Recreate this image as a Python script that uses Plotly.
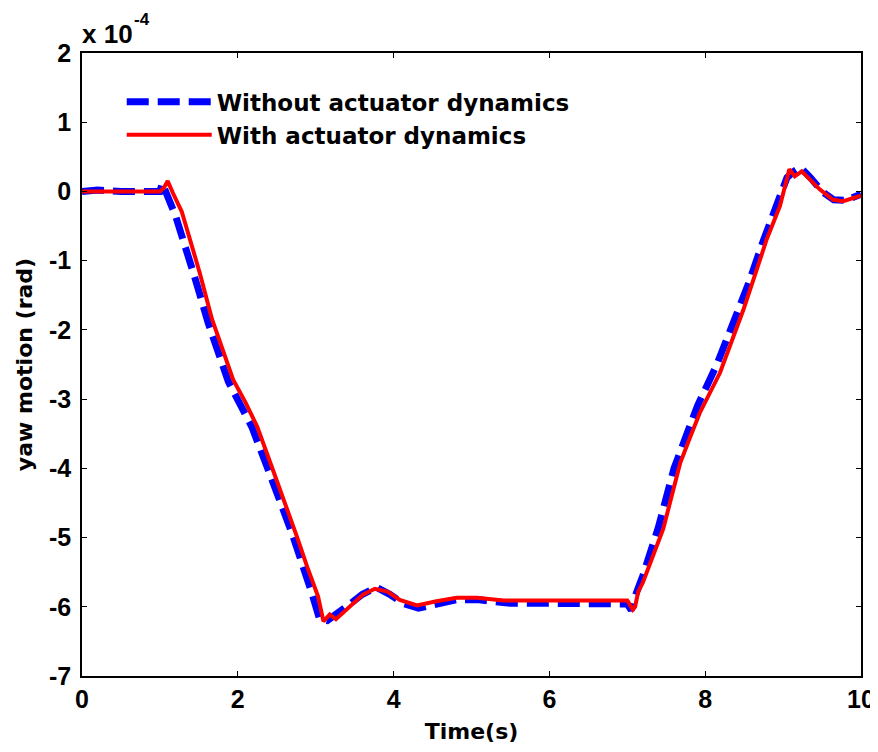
import plotly.graph_objects as go

# yaw motion in units of 1e-4 rad
t_without = [0.0, 0.2, 0.5, 1.0, 1.03, 1.10, 1.20, 1.45, 1.62, 1.88, 2.18, 2.40,
             2.70, 2.95, 3.05, 3.15, 3.28, 3.45, 3.60, 3.78, 3.95, 4.12, 4.32,
             4.55, 4.80, 5.10, 5.50, 6.00, 6.50, 7.00, 7.05, 7.10, 7.20, 7.40,
             7.60, 7.75, 7.90, 8.15, 8.35, 8.55, 8.75, 8.95, 9.05, 9.15, 9.22,
             9.35, 9.50, 9.65, 9.80, 10.0]
y_without = [0.0, 0.02, 0.0, 0.0, 0.12, -0.05, -0.35, -1.25, -1.90, -2.75, -3.40,
             -4.05, -4.95, -5.80, -6.18, -6.20, -6.10, -5.95, -5.82, -5.72, -5.82,
             -5.95, -6.02, -5.97, -5.90, -5.90, -5.95, -5.95, -5.95, -5.96, -6.05,
             -5.85, -5.55, -4.85, -4.00, -3.55, -3.10, -2.50, -1.95, -1.35, -0.70,
             -0.10, 0.20, 0.30, 0.35, 0.20, 0.00, -0.12, -0.13, -0.04]

t_with = [0.0, 0.5, 1.0, 1.05, 1.10, 1.17, 1.28, 1.51, 1.67, 1.73, 1.94, 2.10,
          2.25, 2.45, 2.58, 2.76, 2.89, 3.03, 3.10, 3.18, 3.26, 3.44, 3.61, 3.76,
          3.92, 4.08, 4.30, 4.55, 4.81, 5.07, 5.41, 6.00, 6.43, 6.87, 7.00, 7.07,
          7.10, 7.14, 7.20, 7.46, 7.68, 7.81, 7.93, 8.19, 8.38, 8.49, 8.62, 8.79,
          8.96, 9.08, 9.15, 9.24, 9.47, 9.64, 9.77, 10.0]
y_with = [0.0, 0.0, 0.0, 0.05, 0.15, -0.03, -0.29, -1.17, -1.85, -2.04, -2.72,
          -3.05, -3.40, -4.02, -4.41, -4.99, -5.42, -5.85, -6.21, -6.11, -6.18,
          -6.00, -5.82, -5.74, -5.78, -5.90, -5.98, -5.92, -5.87, -5.87, -5.91,
          -5.91, -5.91, -5.91, -5.91, -6.04, -6.00, -5.78, -5.65, -4.88, -3.92,
          -3.54, -3.20, -2.62, -2.04, -1.71, -1.27, -0.69, -0.21, 0.32, 0.22,
          0.29, 0.03, -0.12, -0.14, -0.06]

x_ticks = [0, 2, 4, 6, 8, 10]
x_tick_labels = ["0", "2", "4", "6", "8", "10"]
y_ticks = [-7, -6, -5, -4, -3, -2, -1, 0, 1, 2]
y_tick_labels = ["-7", "-6", "-5", "-4", "-3", "-2", "-1", "0", "1", "2"]

TEXT_FONT = "DejaVu Sans"
NUM_FONT = "Liberation Sans"

fig = go.Figure()
fig.add_trace(go.Scatter(
    x=t_without, y=y_without, mode="lines",
    name="Without actuator dynamics",
    line=dict(color="#0000FF", width=7, dash="22px,9px"),
))
fig.add_trace(go.Scatter(
    x=t_with, y=y_with, mode="lines",
    name="With actuator dynamics",
    line=dict(color="#FF0000", width=4),
))

axis_common = dict(
    showline=True, linecolor="black", linewidth=1.5, mirror="allticks",
    ticks="inside", ticklen=5, tickcolor="black", tickwidth=1,
    showgrid=False, zeroline=False, automargin=False,
    tickfont=dict(family=NUM_FONT, size=25, color="black", weight="bold"),
)

fig.update_xaxes(
    range=[0, 10], tickvals=x_ticks, ticktext=x_tick_labels,
    title=dict(text="Time(s)", font=dict(family=TEXT_FONT, size=22, color="black", weight="bold"),
               standoff=16),
    **axis_common,
)
fig.update_yaxes(
    range=[-7, 2], tickvals=y_ticks, ticktext=y_tick_labels, ticklabelstandoff=4,
    title=dict(text="yaw motion (rad)", font=dict(family=TEXT_FONT, size=22, color="black", weight="bold"),
               standoff=10),
    **axis_common,
)

# exponent label above the y axis (MATLAB style)
fig.add_annotation(
    x=0, y=1, xref="paper", yref="paper", xanchor="left", yanchor="bottom",
    yshift=2, xshift=-2, showarrow=False,
    text="x 10",
    font=dict(family=NUM_FONT, size=26, color="black", weight="bold"),
)
fig.add_annotation(
    x=0, y=1, xref="paper", yref="paper", xanchor="left", yanchor="bottom",
    yshift=22, xshift=50, showarrow=False,
    text="-4",
    font=dict(family=NUM_FONT, size=17, color="black", weight="bold"),
)

fig.update_layout(
    width=878, height=736,
    paper_bgcolor="white", plot_bgcolor="white",
    margin=dict(l=74, r=25, t=45, b=68),
    showlegend=True,
    legend=dict(
        x=0.051, y=0.956, xanchor="left", yanchor="top",
        bgcolor="rgba(0,0,0,0)",
        font=dict(family=TEXT_FONT, size=23, color="black", weight="bold"),
        itemwidth=85, tracegroupgap=0,
    ),
)

fig.write_html("out.html")
